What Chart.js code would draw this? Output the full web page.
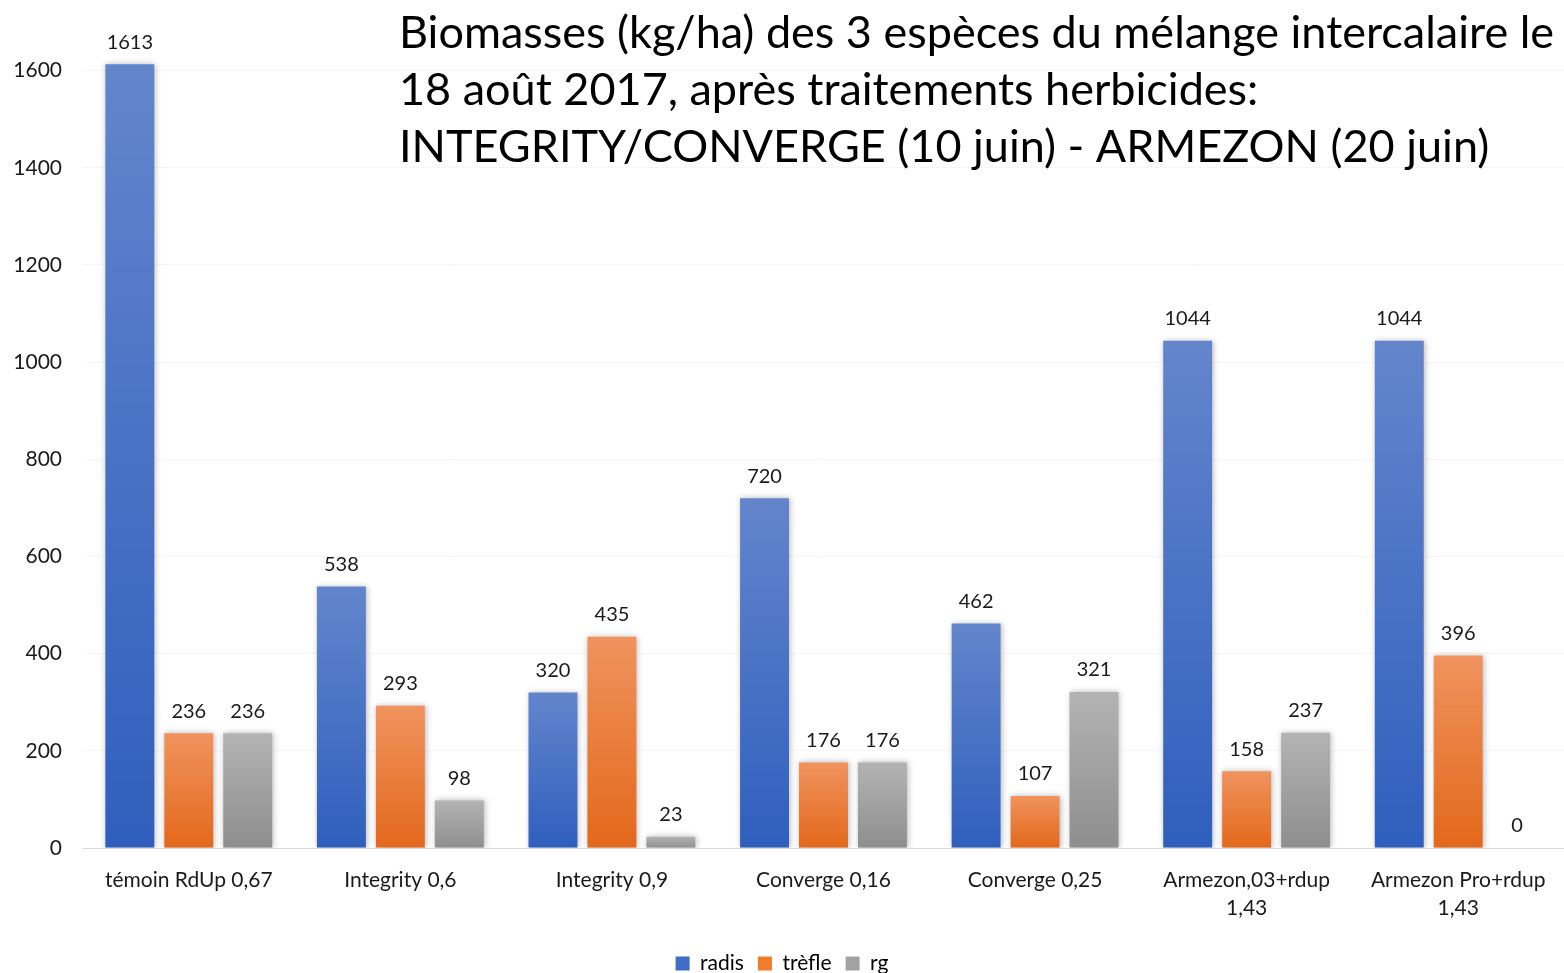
<!DOCTYPE html>
<html>
<head>
<meta charset="utf-8">
<script src="https://cdn.jsdelivr.net/npm/chart.js@4.4.1/dist/chart.umd.min.js"></script>
<style>
  html, body { margin: 0; padding: 0; background: #fff; overflow: hidden; }
  #chart1 { display: block; }
</style>
</head>
<body>
<canvas id="chart1" width="1564" height="973"></canvas>
<script>
// categories and series
var categories = [
    'témoin RdUp 0,67',
    'Integrity 0,6',
    'Integrity 0,9',
    'Converge 0,16',
    'Converge 0,25',
    ['Armezon,03+rdup', '1,43'],
    ['Armezon Pro+rdup', '1,43']
];
var radis  = [1613, 538, 320, 720, 462, 1044, 1044];
var trefle = [236, 293, 435, 176, 107, 158, 396];
var rg     = [236, 98, 23, 176, 321, 237, 0];
var seriesNames = ['radis', 'trèfle', 'rg'];
var yTicks = [0, 200, 400, 600, 800, 1000, 1200, 1400, 1600];
var titleLines = [
    'Biomasses (kg/ha) des 3 espèces du mélange intercalaire le',
    '18 août 2017, après traitements herbicides:',
    'INTEGRITY/CONVERGE (10 juin) - ARMEZON (20 juin)'
];

var FONT = 'Lato, "Open Sans", sans-serif';

// per-bar vertical gradient (lighter at top)
function barGradient(top, bottom) {
    return function (context) {
        var chart = context.chart;
        var yScale = chart.scales.y;
        if (!yScale || context.parsed == null) return bottom;
        var yTop = yScale.getPixelForValue(context.parsed.y);
        var yBase = yScale.getPixelForValue(0);
        if (!isFinite(yTop) || yBase - yTop < 1) return bottom;
        var g = chart.ctx.createLinearGradient(0, yTop, 0, yBase);
        g.addColorStop(0, top);
        g.addColorStop(1, bottom);
        return g;
    };
}

var shadowPlugin = {
    id: 'barShadow',
    beforeDatasetsDraw: function (chart) {
        var ctx = chart.ctx;
        ctx.save();
        ctx.shadowColor = 'rgba(0,0,0,0.28)';
        ctx.shadowBlur = 6;
        ctx.shadowOffsetX = 1;
        ctx.shadowOffsetY = 0;
    },
    afterDatasetsDraw: function (chart) {
        chart.ctx.restore();
    }
};

// value labels above the bars
var valueLabels = {
    id: 'valueLabels',
    afterDatasetsDraw: function (chart) {
        var ctx = chart.ctx;
        ctx.save();
        ctx.font = '20px ' + FONT;
        ctx.fillStyle = '#1a1a1a';
        ctx.textAlign = 'center';
        ctx.textBaseline = 'bottom';
        chart.data.datasets.forEach(function (ds, i) {
            chart.getDatasetMeta(i).data.forEach(function (bar, j) {
                ctx.fillText(String(ds.data[j]), bar.x, bar.y - 12);
            });
        });
        ctx.restore();
    }
};

var titleText = {
    id: 'titleText',
    afterDraw: function (chart) {
        var ctx = chart.ctx;
        ctx.save();
        ctx.font = '45px ' + FONT;
        ctx.fillStyle = '#000';
        ctx.textAlign = 'left';
        ctx.textBaseline = 'alphabetic';
        titleLines.forEach(function (line, i) {
            ctx.fillText(line, 399, 48 + i * 57);
        });
        ctx.restore();
    }
};

var myChart = new Chart(document.getElementById('chart1'), {
    type: 'bar',
    data: {
        labels: categories,
        datasets: [
            { label: seriesNames[0], data: radis,  backgroundColor: barGradient('#6385cc', '#2f5fbd') },
            { label: seriesNames[1], data: trefle, backgroundColor: barGradient('#f0935e', '#e3681b') },
            { label: seriesNames[2], data: rg,     backgroundColor: barGradient('#b3b3b3', '#8e8e8e') }
        ]
    },
    options: {
        responsive: false,
        animation: false,
        devicePixelRatio: 1,
        layout: { padding: { top: 22, right: 0, bottom: -11, left: 0 } },
        datasets: {
            bar: { categoryPercentage: 0.836, barPercentage: 0.83 }
        },
        scales: {
            x: {
                grid: { display: false, drawTicks: false },
                border: { display: true, color: '#d9d9d9', width: 1 },
                ticks: { color: '#1a1a1a', font: { family: FONT, size: 21, lineHeight: 1.35 }, padding: 18, maxRotation: 0, autoSkip: false },
                afterFit: function (scale) { scale.height = 91; }
            },
            y: {
                min: 0,
                max: 1700,
                grid: { color: '#f5f5f5', drawTicks: false },
                border: { display: false },
                ticks: {
                    color: '#1a1a1a',
                    font: { family: FONT, size: 21 },
                    padding: 21,
                    callback: function (value) { return String(value); }
                },
                afterBuildTicks: function (scale) {
                    scale.ticks = yTicks.map(function (v) { return { value: v }; });
                },
                afterFit: function (scale) {
                    scale.width = 83;
                    scale.paddingTop = 0;
                    scale.paddingBottom = 0;
                }
            }
        },
        plugins: {
            legend: {
                position: 'bottom',
                labels: {
                    color: '#1a1a1a',
                    font: { family: FONT, size: 21 },
                    boxWidth: 14,
                    boxHeight: 14,
                    padding: 14,
                    generateLabels: function (chart) {
                        var solid = ['#3e6cc6', '#f07c2c', '#a2a2a2'];
                        return chart.data.datasets.map(function (ds, i) {
                            return { text: ds.label, fillStyle: solid[i], strokeStyle: solid[i], lineWidth: 0, datasetIndex: i };
                        });
                    }
                }
            },
            title: { display: false },
            tooltip: { enabled: false }
        }
    },
    plugins: [shadowPlugin, valueLabels, titleText]
});
</script>
</body>
</html>
